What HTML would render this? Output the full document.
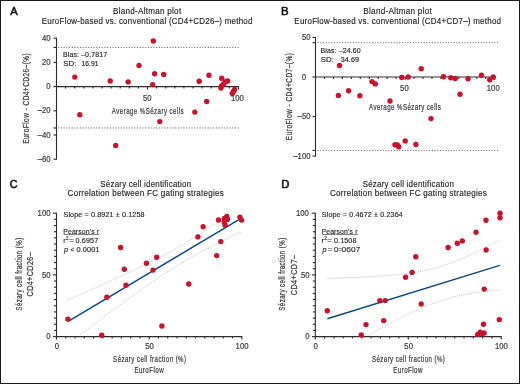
<!DOCTYPE html>
<html><head><meta charset="utf-8">
<style>
html,body{margin:0;padding:0;background:#fff;}
body{width:520px;height:384px;overflow:hidden;}
svg{display:block;font-family:"Liberation Sans",sans-serif;-webkit-font-smoothing:antialiased;will-change:transform;font-kerning:none;font-variant-ligatures:none;}
text{font-kerning:none;font-variant-ligatures:none;}
</style></head>
<body>
<svg width="520" height="384" viewBox="0 0 520 384">
<rect x="0" y="0" width="520" height="384" fill="#fff"/>
<text transform="translate(10.28,15.20) scale(0.9843,1)" font-size="11.337" fill="#111" stroke="#111" stroke-width="0.55">A</text>
<text transform="translate(281.06,14.80) scale(1.0109,1)" font-size="11.337" fill="#111" stroke="#111" stroke-width="0.55">B</text>
<text transform="translate(9.75,187.90) scale(0.9471,1)" font-size="11.337" fill="#111" stroke="#111" stroke-width="0.55">C</text>
<text transform="translate(281.27,187.80) scale(0.9978,1)" font-size="11.337" fill="#111" stroke="#111" stroke-width="0.55">D</text>
<text transform="translate(113.03,13.60) scale(0.9163,1)" font-size="8.866" letter-spacing="0.273" fill="#282828" stroke="#282828" stroke-width="0.16">Bland-Altman plot</text>
<text transform="translate(41.75,23.70) scale(0.8980,1)" font-size="8.866" letter-spacing="0.278" fill="#282828" stroke="#282828" stroke-width="0.16">EuroFlow-based vs. conventional (CD4+CD26–) method</text>
<text transform="translate(363.33,13.60) scale(0.9221,1)" font-size="8.866" letter-spacing="0.271" fill="#282828" stroke="#282828" stroke-width="0.16">Bland-Altman plot</text>
<text transform="translate(294.35,23.70) scale(0.9002,1)" font-size="8.866" letter-spacing="0.278" fill="#282828" stroke="#282828" stroke-width="0.16">EuroFlow-based vs. conventional (CD4+CD7–) method</text>
<text transform="translate(100.34,186.90) scale(0.8897,1)" font-size="8.866" letter-spacing="0.281" fill="#282828" stroke="#282828" stroke-width="0.16">Sézary cell identification</text>
<text transform="translate(67.59,196.30) scale(0.9100,1)" font-size="8.866" letter-spacing="0.275" fill="#282828" stroke="#282828" stroke-width="0.16">Correlation between FC gating strategies</text>
<text transform="translate(362.64,186.90) scale(0.8950,1)" font-size="8.866" letter-spacing="0.279" fill="#282828" stroke="#282828" stroke-width="0.16">Sézary cell identification</text>
<text transform="translate(329.89,196.30) scale(0.9137,1)" font-size="8.866" letter-spacing="0.274" fill="#282828" stroke="#282828" stroke-width="0.16">Correlation between FC gating strategies</text>
<line x1="56.50" y1="37.70" x2="56.50" y2="159.70" stroke="#302c2d" stroke-width="1.12"/>
<line x1="53.50" y1="38.20" x2="56.50" y2="38.20" stroke="#302c2d" stroke-width="1.12"/>
<line x1="53.50" y1="62.40" x2="56.50" y2="62.40" stroke="#302c2d" stroke-width="1.12"/>
<line x1="53.50" y1="86.60" x2="56.50" y2="86.60" stroke="#302c2d" stroke-width="1.12"/>
<line x1="53.50" y1="110.80" x2="56.50" y2="110.80" stroke="#302c2d" stroke-width="1.12"/>
<line x1="53.50" y1="135.00" x2="56.50" y2="135.00" stroke="#302c2d" stroke-width="1.12"/>
<line x1="53.50" y1="159.20" x2="56.50" y2="159.20" stroke="#302c2d" stroke-width="1.12"/>
<line x1="53.50" y1="47.45" x2="56.50" y2="47.45" stroke="#302c2d" stroke-width="1.12"/>
<line x1="53.50" y1="127.95" x2="56.50" y2="127.95" stroke="#302c2d" stroke-width="1.12"/>
<line x1="56.50" y1="86.60" x2="239.00" y2="86.60" stroke="#302c2d" stroke-width="1.12"/>
<line x1="65.60" y1="86.60" x2="65.60" y2="88.60" stroke="#302c2d" stroke-width="1.12"/>
<line x1="74.70" y1="86.60" x2="74.70" y2="88.60" stroke="#302c2d" stroke-width="1.12"/>
<line x1="83.80" y1="86.60" x2="83.80" y2="88.60" stroke="#302c2d" stroke-width="1.12"/>
<line x1="92.90" y1="86.60" x2="92.90" y2="88.60" stroke="#302c2d" stroke-width="1.12"/>
<line x1="102.00" y1="86.60" x2="102.00" y2="88.60" stroke="#302c2d" stroke-width="1.12"/>
<line x1="111.10" y1="86.60" x2="111.10" y2="88.60" stroke="#302c2d" stroke-width="1.12"/>
<line x1="120.20" y1="86.60" x2="120.20" y2="88.60" stroke="#302c2d" stroke-width="1.12"/>
<line x1="129.30" y1="86.60" x2="129.30" y2="88.60" stroke="#302c2d" stroke-width="1.12"/>
<line x1="138.40" y1="86.60" x2="138.40" y2="88.60" stroke="#302c2d" stroke-width="1.12"/>
<line x1="147.50" y1="86.60" x2="147.50" y2="89.60" stroke="#302c2d" stroke-width="1.12"/>
<line x1="156.60" y1="86.60" x2="156.60" y2="88.60" stroke="#302c2d" stroke-width="1.12"/>
<line x1="165.70" y1="86.60" x2="165.70" y2="88.60" stroke="#302c2d" stroke-width="1.12"/>
<line x1="174.80" y1="86.60" x2="174.80" y2="88.60" stroke="#302c2d" stroke-width="1.12"/>
<line x1="183.90" y1="86.60" x2="183.90" y2="88.60" stroke="#302c2d" stroke-width="1.12"/>
<line x1="193.00" y1="86.60" x2="193.00" y2="88.60" stroke="#302c2d" stroke-width="1.12"/>
<line x1="202.10" y1="86.60" x2="202.10" y2="88.60" stroke="#302c2d" stroke-width="1.12"/>
<line x1="211.20" y1="86.60" x2="211.20" y2="88.60" stroke="#302c2d" stroke-width="1.12"/>
<line x1="220.30" y1="86.60" x2="220.30" y2="88.60" stroke="#302c2d" stroke-width="1.12"/>
<line x1="229.40" y1="86.60" x2="229.40" y2="88.60" stroke="#302c2d" stroke-width="1.12"/>
<line x1="238.50" y1="86.60" x2="238.50" y2="89.60" stroke="#302c2d" stroke-width="1.12"/>
<line x1="58.20" y1="47.45" x2="239.20" y2="47.45" stroke="#555" stroke-width="1" stroke-dasharray="1 1.72"/>
<line x1="58.20" y1="127.95" x2="239.20" y2="127.95" stroke="#555" stroke-width="1" stroke-dasharray="1 1.72"/>
<text transform="translate(42.00,40.80) scale(0.9300,1)" font-size="8.312" fill="#3a3a3a" stroke="#3a3a3a" stroke-width="0.20">40</text>
<text transform="translate(42.00,65.00) scale(0.9300,1)" font-size="8.312" fill="#3a3a3a" stroke="#3a3a3a" stroke-width="0.20">20</text>
<text transform="translate(46.30,89.20) scale(0.9300,1)" font-size="8.312" fill="#3a3a3a" stroke="#3a3a3a" stroke-width="0.20">0</text>
<text transform="translate(37.70,113.40) scale(0.9300,1)" font-size="8.312" fill="#3a3a3a" stroke="#3a3a3a" stroke-width="0.20">–20</text>
<text transform="translate(37.70,137.60) scale(0.9300,1)" font-size="8.312" fill="#3a3a3a" stroke="#3a3a3a" stroke-width="0.20">–40</text>
<text transform="translate(37.70,161.80) scale(0.9300,1)" font-size="8.312" fill="#3a3a3a" stroke="#3a3a3a" stroke-width="0.20">–60</text>
<text transform="translate(143.00,101.30) scale(0.9300,1)" font-size="8.312" fill="#3a3a3a" stroke="#3a3a3a" stroke-width="0.20">50</text>
<text transform="translate(230.91,101.30) scale(0.9300,1)" font-size="8.312" fill="#3a3a3a" stroke="#3a3a3a" stroke-width="0.20">100</text>
<text transform="translate(111.84,113.60) scale(0.6468,1)" font-size="9.448" letter-spacing="0.696" fill="#3a3a3a" stroke="#3a3a3a" stroke-width="0.24">Average %Sézary cells</text>
<text transform="translate(28.90,98.40) rotate(-90) translate(-45.44,0.00) scale(0.6920,1)" font-size="9.448" letter-spacing="0.650" fill="#3a3a3a" stroke="#3a3a3a" stroke-width="0.24">EuroFlow - CD4+CD26–(%)</text>
<text transform="translate(62.93,57.00) scale(0.8913,1)" font-size="7.849" letter-spacing="0.135" fill="#282828" stroke="#282828" stroke-width="0.18">Bias: –0.7817</text>
<text transform="translate(63.14,66.00) scale(1.0000,1)" font-size="7.849" letter-spacing="0.120" fill="#282828" stroke="#282828" stroke-width="0.18">SD:</text>
<text transform="translate(81.39,66.00) scale(0.8478,1)" font-size="7.849" letter-spacing="0.142" fill="#282828" stroke="#282828" stroke-width="0.18">16.91</text>
<circle cx="74.80" cy="77.10" r="2.7" fill="#c5142e"/>
<circle cx="79.80" cy="114.80" r="2.7" fill="#c5142e"/>
<circle cx="110.20" cy="81.00" r="2.7" fill="#c5142e"/>
<circle cx="115.70" cy="145.50" r="2.7" fill="#c5142e"/>
<circle cx="128.10" cy="81.90" r="2.7" fill="#c5142e"/>
<circle cx="139.00" cy="65.40" r="2.7" fill="#c5142e"/>
<circle cx="153.30" cy="41.00" r="2.7" fill="#c5142e"/>
<circle cx="154.60" cy="73.70" r="2.7" fill="#c5142e"/>
<circle cx="152.70" cy="84.60" r="2.7" fill="#c5142e"/>
<circle cx="163.70" cy="74.40" r="2.7" fill="#c5142e"/>
<circle cx="159.80" cy="121.60" r="2.7" fill="#c5142e"/>
<circle cx="194.80" cy="112.10" r="2.7" fill="#c5142e"/>
<circle cx="199.20" cy="81.30" r="2.7" fill="#c5142e"/>
<circle cx="206.70" cy="101.50" r="2.7" fill="#c5142e"/>
<circle cx="209.00" cy="75.20" r="2.7" fill="#c5142e"/>
<circle cx="221.70" cy="78.20" r="2.7" fill="#c5142e"/>
<circle cx="227.60" cy="80.90" r="2.7" fill="#c5142e"/>
<circle cx="225.60" cy="81.70" r="2.7" fill="#c5142e"/>
<circle cx="223.70" cy="83.70" r="2.7" fill="#c5142e"/>
<circle cx="221.70" cy="85.60" r="2.7" fill="#c5142e"/>
<circle cx="220.90" cy="88.00" r="2.7" fill="#c5142e"/>
<circle cx="234.60" cy="89.50" r="2.7" fill="#c5142e"/>
<circle cx="233.40" cy="91.50" r="2.7" fill="#c5142e"/>
<circle cx="232.30" cy="93.40" r="2.7" fill="#c5142e"/>
<line x1="315.50" y1="36.95" x2="315.50" y2="156.59" stroke="#302c2d" stroke-width="1.12"/>
<line x1="312.50" y1="37.45" x2="315.50" y2="37.45" stroke="#302c2d" stroke-width="1.12"/>
<line x1="312.50" y1="77.00" x2="315.50" y2="77.00" stroke="#302c2d" stroke-width="1.12"/>
<line x1="312.50" y1="116.55" x2="315.50" y2="116.55" stroke="#302c2d" stroke-width="1.12"/>
<line x1="312.50" y1="156.09" x2="315.50" y2="156.09" stroke="#302c2d" stroke-width="1.12"/>
<line x1="312.50" y1="42.70" x2="315.50" y2="42.70" stroke="#302c2d" stroke-width="1.12"/>
<line x1="312.50" y1="150.40" x2="315.50" y2="150.40" stroke="#302c2d" stroke-width="1.12"/>
<line x1="315.50" y1="77.00" x2="495.20" y2="77.00" stroke="#302c2d" stroke-width="1.12"/>
<line x1="324.46" y1="77.00" x2="324.46" y2="79.00" stroke="#302c2d" stroke-width="1.12"/>
<line x1="333.42" y1="77.00" x2="333.42" y2="79.00" stroke="#302c2d" stroke-width="1.12"/>
<line x1="342.38" y1="77.00" x2="342.38" y2="79.00" stroke="#302c2d" stroke-width="1.12"/>
<line x1="351.34" y1="77.00" x2="351.34" y2="79.00" stroke="#302c2d" stroke-width="1.12"/>
<line x1="360.30" y1="77.00" x2="360.30" y2="79.00" stroke="#302c2d" stroke-width="1.12"/>
<line x1="369.26" y1="77.00" x2="369.26" y2="79.00" stroke="#302c2d" stroke-width="1.12"/>
<line x1="378.22" y1="77.00" x2="378.22" y2="79.00" stroke="#302c2d" stroke-width="1.12"/>
<line x1="387.18" y1="77.00" x2="387.18" y2="79.00" stroke="#302c2d" stroke-width="1.12"/>
<line x1="396.14" y1="77.00" x2="396.14" y2="79.00" stroke="#302c2d" stroke-width="1.12"/>
<line x1="405.10" y1="77.00" x2="405.10" y2="80.00" stroke="#302c2d" stroke-width="1.12"/>
<line x1="414.06" y1="77.00" x2="414.06" y2="79.00" stroke="#302c2d" stroke-width="1.12"/>
<line x1="423.02" y1="77.00" x2="423.02" y2="79.00" stroke="#302c2d" stroke-width="1.12"/>
<line x1="431.98" y1="77.00" x2="431.98" y2="79.00" stroke="#302c2d" stroke-width="1.12"/>
<line x1="440.94" y1="77.00" x2="440.94" y2="79.00" stroke="#302c2d" stroke-width="1.12"/>
<line x1="449.90" y1="77.00" x2="449.90" y2="79.00" stroke="#302c2d" stroke-width="1.12"/>
<line x1="458.86" y1="77.00" x2="458.86" y2="79.00" stroke="#302c2d" stroke-width="1.12"/>
<line x1="467.82" y1="77.00" x2="467.82" y2="79.00" stroke="#302c2d" stroke-width="1.12"/>
<line x1="476.78" y1="77.00" x2="476.78" y2="79.00" stroke="#302c2d" stroke-width="1.12"/>
<line x1="485.74" y1="77.00" x2="485.74" y2="79.00" stroke="#302c2d" stroke-width="1.12"/>
<line x1="494.70" y1="77.00" x2="494.70" y2="80.00" stroke="#302c2d" stroke-width="1.12"/>
<line x1="317.60" y1="42.70" x2="498.60" y2="42.70" stroke="#555" stroke-width="1" stroke-dasharray="1 1.72"/>
<line x1="317.60" y1="150.40" x2="498.60" y2="150.40" stroke="#555" stroke-width="1" stroke-dasharray="1 1.72"/>
<text transform="translate(301.90,40.05) scale(0.9300,1)" font-size="8.312" fill="#3a3a3a" stroke="#3a3a3a" stroke-width="0.20">50</text>
<text transform="translate(297.60,119.14) scale(0.9300,1)" font-size="8.312" fill="#3a3a3a" stroke="#3a3a3a" stroke-width="0.20">–50</text>
<text transform="translate(293.31,158.69) scale(0.9300,1)" font-size="8.312" fill="#3a3a3a" stroke="#3a3a3a" stroke-width="0.20">–100</text>
<text transform="translate(301.65,79.60) scale(0.9300,1)" font-size="8.312" fill="#3a3a3a" stroke="#3a3a3a" stroke-width="0.20">0</text>
<text transform="translate(400.10,91.40) scale(0.9300,1)" font-size="8.312" fill="#3a3a3a" stroke="#3a3a3a" stroke-width="0.20">50</text>
<text transform="translate(486.81,91.40) scale(0.9300,1)" font-size="8.312" fill="#3a3a3a" stroke="#3a3a3a" stroke-width="0.20">100</text>
<text transform="translate(368.94,109.60) scale(0.6489,1)" font-size="9.448" letter-spacing="0.694" fill="#3a3a3a" stroke="#3a3a3a" stroke-width="0.24">Average %Sézary cells</text>
<text transform="translate(291.70,96.45) rotate(-90) translate(-43.74,0.00) scale(0.6982,1)" font-size="9.448" letter-spacing="0.644" fill="#3a3a3a" stroke="#3a3a3a" stroke-width="0.24">EuroFlow - CD4+CD7–(%)</text>
<text transform="translate(320.53,53.00) scale(0.8897,1)" font-size="7.849" letter-spacing="0.135" fill="#282828" stroke="#282828" stroke-width="0.18">Bias: –24.60</text>
<text transform="translate(320.74,61.50) scale(1.0000,1)" font-size="7.849" letter-spacing="0.120" fill="#282828" stroke="#282828" stroke-width="0.18">SD:</text>
<text transform="translate(340.63,61.50) scale(0.9077,1)" font-size="7.849" letter-spacing="0.132" fill="#282828" stroke="#282828" stroke-width="0.18">34.69</text>
<circle cx="339.50" cy="65.50" r="2.7" fill="#c5142e"/>
<circle cx="338.40" cy="95.40" r="2.7" fill="#c5142e"/>
<circle cx="348.60" cy="90.70" r="2.7" fill="#c5142e"/>
<circle cx="359.90" cy="95.80" r="2.7" fill="#c5142e"/>
<circle cx="372.00" cy="81.60" r="2.7" fill="#c5142e"/>
<circle cx="375.30" cy="83.90" r="2.7" fill="#c5142e"/>
<circle cx="390.00" cy="101.00" r="2.7" fill="#c5142e"/>
<circle cx="421.25" cy="68.75" r="2.7" fill="#c5142e"/>
<circle cx="401.75" cy="77.50" r="2.7" fill="#c5142e"/>
<circle cx="408.25" cy="77.00" r="2.7" fill="#c5142e"/>
<circle cx="443.50" cy="76.75" r="2.7" fill="#c5142e"/>
<circle cx="450.75" cy="77.75" r="2.7" fill="#c5142e"/>
<circle cx="455.25" cy="78.50" r="2.7" fill="#c5142e"/>
<circle cx="468.00" cy="78.75" r="2.7" fill="#c5142e"/>
<circle cx="481.50" cy="75.25" r="2.7" fill="#c5142e"/>
<circle cx="489.75" cy="79.75" r="2.7" fill="#c5142e"/>
<circle cx="493.25" cy="77.00" r="2.7" fill="#c5142e"/>
<circle cx="460.00" cy="94.25" r="2.7" fill="#c5142e"/>
<circle cx="431.00" cy="118.60" r="2.7" fill="#c5142e"/>
<circle cx="395.00" cy="144.80" r="2.7" fill="#c5142e"/>
<circle cx="397.40" cy="145.00" r="2.7" fill="#c5142e"/>
<circle cx="398.75" cy="146.80" r="2.7" fill="#c5142e"/>
<circle cx="405.20" cy="140.90" r="2.7" fill="#c5142e"/>
<circle cx="415.90" cy="144.50" r="2.7" fill="#c5142e"/>
<line x1="56.50" y1="212.70" x2="56.50" y2="337.10" stroke="#302c2d" stroke-width="1.12"/>
<line x1="53.00" y1="336.60" x2="56.50" y2="336.60" stroke="#302c2d" stroke-width="1.12"/>
<line x1="54.00" y1="330.43" x2="56.50" y2="330.43" stroke="#302c2d" stroke-width="1.12"/>
<line x1="54.00" y1="324.26" x2="56.50" y2="324.26" stroke="#302c2d" stroke-width="1.12"/>
<line x1="54.00" y1="318.09" x2="56.50" y2="318.09" stroke="#302c2d" stroke-width="1.12"/>
<line x1="54.00" y1="311.92" x2="56.50" y2="311.92" stroke="#302c2d" stroke-width="1.12"/>
<line x1="54.00" y1="305.75" x2="56.50" y2="305.75" stroke="#302c2d" stroke-width="1.12"/>
<line x1="54.00" y1="299.58" x2="56.50" y2="299.58" stroke="#302c2d" stroke-width="1.12"/>
<line x1="54.00" y1="293.41" x2="56.50" y2="293.41" stroke="#302c2d" stroke-width="1.12"/>
<line x1="54.00" y1="287.24" x2="56.50" y2="287.24" stroke="#302c2d" stroke-width="1.12"/>
<line x1="54.00" y1="281.07" x2="56.50" y2="281.07" stroke="#302c2d" stroke-width="1.12"/>
<line x1="53.00" y1="274.90" x2="56.50" y2="274.90" stroke="#302c2d" stroke-width="1.12"/>
<line x1="54.00" y1="268.73" x2="56.50" y2="268.73" stroke="#302c2d" stroke-width="1.12"/>
<line x1="54.00" y1="262.56" x2="56.50" y2="262.56" stroke="#302c2d" stroke-width="1.12"/>
<line x1="54.00" y1="256.39" x2="56.50" y2="256.39" stroke="#302c2d" stroke-width="1.12"/>
<line x1="54.00" y1="250.22" x2="56.50" y2="250.22" stroke="#302c2d" stroke-width="1.12"/>
<line x1="54.00" y1="244.05" x2="56.50" y2="244.05" stroke="#302c2d" stroke-width="1.12"/>
<line x1="54.00" y1="237.88" x2="56.50" y2="237.88" stroke="#302c2d" stroke-width="1.12"/>
<line x1="54.00" y1="231.71" x2="56.50" y2="231.71" stroke="#302c2d" stroke-width="1.12"/>
<line x1="54.00" y1="225.54" x2="56.50" y2="225.54" stroke="#302c2d" stroke-width="1.12"/>
<line x1="54.00" y1="219.37" x2="56.50" y2="219.37" stroke="#302c2d" stroke-width="1.12"/>
<line x1="53.00" y1="213.20" x2="56.50" y2="213.20" stroke="#302c2d" stroke-width="1.12"/>
<line x1="56.00" y1="336.60" x2="242.30" y2="336.60" stroke="#302c2d" stroke-width="1.12"/>
<line x1="56.50" y1="336.60" x2="56.50" y2="339.60" stroke="#302c2d" stroke-width="1.12"/>
<line x1="65.77" y1="336.60" x2="65.77" y2="338.40" stroke="#302c2d" stroke-width="1.12"/>
<line x1="75.03" y1="336.60" x2="75.03" y2="338.40" stroke="#302c2d" stroke-width="1.12"/>
<line x1="84.30" y1="336.60" x2="84.30" y2="338.40" stroke="#302c2d" stroke-width="1.12"/>
<line x1="93.56" y1="336.60" x2="93.56" y2="338.40" stroke="#302c2d" stroke-width="1.12"/>
<line x1="102.83" y1="336.60" x2="102.83" y2="338.40" stroke="#302c2d" stroke-width="1.12"/>
<line x1="112.09" y1="336.60" x2="112.09" y2="338.40" stroke="#302c2d" stroke-width="1.12"/>
<line x1="121.36" y1="336.60" x2="121.36" y2="338.40" stroke="#302c2d" stroke-width="1.12"/>
<line x1="130.62" y1="336.60" x2="130.62" y2="338.40" stroke="#302c2d" stroke-width="1.12"/>
<line x1="139.88" y1="336.60" x2="139.88" y2="338.40" stroke="#302c2d" stroke-width="1.12"/>
<line x1="149.15" y1="336.60" x2="149.15" y2="339.60" stroke="#302c2d" stroke-width="1.12"/>
<line x1="158.42" y1="336.60" x2="158.42" y2="338.40" stroke="#302c2d" stroke-width="1.12"/>
<line x1="167.68" y1="336.60" x2="167.68" y2="338.40" stroke="#302c2d" stroke-width="1.12"/>
<line x1="176.94" y1="336.60" x2="176.94" y2="338.40" stroke="#302c2d" stroke-width="1.12"/>
<line x1="186.21" y1="336.60" x2="186.21" y2="338.40" stroke="#302c2d" stroke-width="1.12"/>
<line x1="195.48" y1="336.60" x2="195.48" y2="338.40" stroke="#302c2d" stroke-width="1.12"/>
<line x1="204.74" y1="336.60" x2="204.74" y2="338.40" stroke="#302c2d" stroke-width="1.12"/>
<line x1="214.01" y1="336.60" x2="214.01" y2="338.40" stroke="#302c2d" stroke-width="1.12"/>
<line x1="223.27" y1="336.60" x2="223.27" y2="338.40" stroke="#302c2d" stroke-width="1.12"/>
<line x1="232.54" y1="336.60" x2="232.54" y2="338.40" stroke="#302c2d" stroke-width="1.12"/>
<line x1="241.80" y1="336.60" x2="241.80" y2="339.60" stroke="#302c2d" stroke-width="1.12"/>
<text transform="translate(37.60,215.80) scale(0.9300,1)" font-size="8.312" fill="#3a3a3a" stroke="#3a3a3a" stroke-width="0.20">100</text>
<text transform="translate(41.90,277.50) scale(0.9300,1)" font-size="8.312" fill="#3a3a3a" stroke="#3a3a3a" stroke-width="0.20">50</text>
<text transform="translate(46.20,339.20) scale(0.9300,1)" font-size="8.312" fill="#3a3a3a" stroke="#3a3a3a" stroke-width="0.20">0</text>
<text transform="translate(54.75,348.80) scale(0.9300,1)" font-size="8.312" fill="#3a3a3a" stroke="#3a3a3a" stroke-width="0.20">0</text>
<text transform="translate(145.25,348.80) scale(0.9300,1)" font-size="8.312" fill="#3a3a3a" stroke="#3a3a3a" stroke-width="0.20">50</text>
<text transform="translate(235.61,348.80) scale(0.9300,1)" font-size="8.312" fill="#3a3a3a" stroke="#3a3a3a" stroke-width="0.20">100</text>
<text transform="translate(113.12,362.00) scale(0.6445,1)" font-size="9.448" letter-spacing="0.698" fill="#3a3a3a" stroke="#3a3a3a" stroke-width="0.24">Sézary cell fraction (%)</text>
<text transform="translate(134.39,373.30) scale(0.6551,1)" font-size="9.448" letter-spacing="0.687" fill="#3a3a3a" stroke="#3a3a3a" stroke-width="0.24">EuroFlow</text>
<text transform="translate(21.80,274.25) rotate(-90) translate(-36.43,0.00) scale(0.6445,1)" font-size="9.448" letter-spacing="0.698" fill="#3a3a3a" stroke="#3a3a3a" stroke-width="0.24">Sézary cell fraction (%)</text>
<text transform="translate(33.40,274.20) rotate(-90) translate(-22.26,0.00) scale(0.7536,1)" font-size="9.448" letter-spacing="0.597" fill="#3a3a3a" stroke="#3a3a3a" stroke-width="0.24">CD4+CD26–</text>
<line x1="315.30" y1="212.70" x2="315.30" y2="337.10" stroke="#302c2d" stroke-width="1.12"/>
<line x1="311.80" y1="336.60" x2="315.30" y2="336.60" stroke="#302c2d" stroke-width="1.12"/>
<line x1="312.80" y1="330.43" x2="315.30" y2="330.43" stroke="#302c2d" stroke-width="1.12"/>
<line x1="312.80" y1="324.26" x2="315.30" y2="324.26" stroke="#302c2d" stroke-width="1.12"/>
<line x1="312.80" y1="318.09" x2="315.30" y2="318.09" stroke="#302c2d" stroke-width="1.12"/>
<line x1="312.80" y1="311.92" x2="315.30" y2="311.92" stroke="#302c2d" stroke-width="1.12"/>
<line x1="312.80" y1="305.75" x2="315.30" y2="305.75" stroke="#302c2d" stroke-width="1.12"/>
<line x1="312.80" y1="299.58" x2="315.30" y2="299.58" stroke="#302c2d" stroke-width="1.12"/>
<line x1="312.80" y1="293.41" x2="315.30" y2="293.41" stroke="#302c2d" stroke-width="1.12"/>
<line x1="312.80" y1="287.24" x2="315.30" y2="287.24" stroke="#302c2d" stroke-width="1.12"/>
<line x1="312.80" y1="281.07" x2="315.30" y2="281.07" stroke="#302c2d" stroke-width="1.12"/>
<line x1="311.80" y1="274.90" x2="315.30" y2="274.90" stroke="#302c2d" stroke-width="1.12"/>
<line x1="312.80" y1="268.73" x2="315.30" y2="268.73" stroke="#302c2d" stroke-width="1.12"/>
<line x1="312.80" y1="262.56" x2="315.30" y2="262.56" stroke="#302c2d" stroke-width="1.12"/>
<line x1="312.80" y1="256.39" x2="315.30" y2="256.39" stroke="#302c2d" stroke-width="1.12"/>
<line x1="312.80" y1="250.22" x2="315.30" y2="250.22" stroke="#302c2d" stroke-width="1.12"/>
<line x1="312.80" y1="244.05" x2="315.30" y2="244.05" stroke="#302c2d" stroke-width="1.12"/>
<line x1="312.80" y1="237.88" x2="315.30" y2="237.88" stroke="#302c2d" stroke-width="1.12"/>
<line x1="312.80" y1="231.71" x2="315.30" y2="231.71" stroke="#302c2d" stroke-width="1.12"/>
<line x1="312.80" y1="225.54" x2="315.30" y2="225.54" stroke="#302c2d" stroke-width="1.12"/>
<line x1="312.80" y1="219.37" x2="315.30" y2="219.37" stroke="#302c2d" stroke-width="1.12"/>
<line x1="311.80" y1="213.20" x2="315.30" y2="213.20" stroke="#302c2d" stroke-width="1.12"/>
<line x1="314.80" y1="336.60" x2="501.70" y2="336.60" stroke="#302c2d" stroke-width="1.12"/>
<line x1="315.30" y1="336.60" x2="315.30" y2="339.60" stroke="#302c2d" stroke-width="1.12"/>
<line x1="324.60" y1="336.60" x2="324.60" y2="338.40" stroke="#302c2d" stroke-width="1.12"/>
<line x1="333.89" y1="336.60" x2="333.89" y2="338.40" stroke="#302c2d" stroke-width="1.12"/>
<line x1="343.19" y1="336.60" x2="343.19" y2="338.40" stroke="#302c2d" stroke-width="1.12"/>
<line x1="352.48" y1="336.60" x2="352.48" y2="338.40" stroke="#302c2d" stroke-width="1.12"/>
<line x1="361.77" y1="336.60" x2="361.77" y2="338.40" stroke="#302c2d" stroke-width="1.12"/>
<line x1="371.07" y1="336.60" x2="371.07" y2="338.40" stroke="#302c2d" stroke-width="1.12"/>
<line x1="380.37" y1="336.60" x2="380.37" y2="338.40" stroke="#302c2d" stroke-width="1.12"/>
<line x1="389.66" y1="336.60" x2="389.66" y2="338.40" stroke="#302c2d" stroke-width="1.12"/>
<line x1="398.95" y1="336.60" x2="398.95" y2="338.40" stroke="#302c2d" stroke-width="1.12"/>
<line x1="408.25" y1="336.60" x2="408.25" y2="339.60" stroke="#302c2d" stroke-width="1.12"/>
<line x1="417.55" y1="336.60" x2="417.55" y2="338.40" stroke="#302c2d" stroke-width="1.12"/>
<line x1="426.84" y1="336.60" x2="426.84" y2="338.40" stroke="#302c2d" stroke-width="1.12"/>
<line x1="436.13" y1="336.60" x2="436.13" y2="338.40" stroke="#302c2d" stroke-width="1.12"/>
<line x1="445.43" y1="336.60" x2="445.43" y2="338.40" stroke="#302c2d" stroke-width="1.12"/>
<line x1="454.73" y1="336.60" x2="454.73" y2="338.40" stroke="#302c2d" stroke-width="1.12"/>
<line x1="464.02" y1="336.60" x2="464.02" y2="338.40" stroke="#302c2d" stroke-width="1.12"/>
<line x1="473.31" y1="336.60" x2="473.31" y2="338.40" stroke="#302c2d" stroke-width="1.12"/>
<line x1="482.61" y1="336.60" x2="482.61" y2="338.40" stroke="#302c2d" stroke-width="1.12"/>
<line x1="491.90" y1="336.60" x2="491.90" y2="338.40" stroke="#302c2d" stroke-width="1.12"/>
<line x1="501.20" y1="336.60" x2="501.20" y2="339.60" stroke="#302c2d" stroke-width="1.12"/>
<text transform="translate(295.90,215.80) scale(0.9300,1)" font-size="8.312" fill="#3a3a3a" stroke="#3a3a3a" stroke-width="0.20">100</text>
<text transform="translate(301.00,277.50) scale(0.9300,1)" font-size="8.312" fill="#3a3a3a" stroke="#3a3a3a" stroke-width="0.20">50</text>
<text transform="translate(305.30,339.20) scale(0.9300,1)" font-size="8.312" fill="#3a3a3a" stroke="#3a3a3a" stroke-width="0.20">0</text>
<text transform="translate(313.55,348.80) scale(0.9300,1)" font-size="8.312" fill="#3a3a3a" stroke="#3a3a3a" stroke-width="0.20">0</text>
<text transform="translate(404.35,348.80) scale(0.9300,1)" font-size="8.312" fill="#3a3a3a" stroke="#3a3a3a" stroke-width="0.20">50</text>
<text transform="translate(495.01,348.80) scale(0.9300,1)" font-size="8.312" fill="#3a3a3a" stroke="#3a3a3a" stroke-width="0.20">100</text>
<text transform="translate(371.97,362.00) scale(0.6445,1)" font-size="9.448" letter-spacing="0.698" fill="#3a3a3a" stroke="#3a3a3a" stroke-width="0.24">Sézary cell fraction (%)</text>
<text transform="translate(393.19,373.30) scale(0.6551,1)" font-size="9.448" letter-spacing="0.687" fill="#3a3a3a" stroke="#3a3a3a" stroke-width="0.24">EuroFlow</text>
<text transform="translate(284.80,274.25) rotate(-90) translate(-36.43,0.00) scale(0.6445,1)" font-size="9.448" letter-spacing="0.698" fill="#3a3a3a" stroke="#3a3a3a" stroke-width="0.24">Sézary cell fraction (%)</text>
<text transform="translate(297.10,274.90) rotate(-90) translate(-20.27,0.00) scale(0.7621,1)" font-size="9.448" letter-spacing="0.590" fill="#3a3a3a" stroke="#3a3a3a" stroke-width="0.24">CD4+CD7–</text>
<text transform="translate(63.47,217.30) scale(0.9892,1)" font-size="7.268" letter-spacing="0.121" fill="#282828" stroke="#282828" stroke-width="0.15">Slope = 0.8921 ± 0.1258</text>
<text transform="translate(63.24,233.60) scale(0.9462,1)" font-size="7.268" letter-spacing="0.127" fill="#282828" stroke="#282828" stroke-width="0.15">Pearson’s r</text>
<line x1="63.80" y1="234.50" x2="99.40" y2="234.50" stroke="#5a5a5a" stroke-width="0.75"/>
<text transform="translate(63.32,243.40) scale(1.0000,1)" font-size="7.268" fill="#282828" stroke="#282828" stroke-width="0.15">r</text>
<text transform="translate(66.03,240.20) scale(1.0000,1)" font-size="4.470" fill="#282828" stroke="#282828" stroke-width="0.15">2</text>
<text transform="translate(69.01,243.40) scale(1.1045,1)" font-size="7.268" fill="#282828" stroke="#282828" stroke-width="0.15">=</text>
<text transform="translate(75.62,243.40) scale(0.9917,1)" font-size="7.268" letter-spacing="0.121" fill="#282828" stroke="#282828" stroke-width="0.15">0.6957</text>
<text transform="translate(64.08,252.00) scale(1.0000,1)" font-size="7.268" font-style="italic" fill="#282828" stroke="#282828" stroke-width="0.15">p</text>
<text transform="translate(70.38,252.00) scale(0.8921,1)" font-size="7.268" letter-spacing="0.135" fill="#282828" stroke="#282828" stroke-width="0.15">&lt;</text>
<text transform="translate(76.41,252.00) scale(1.0097,1)" font-size="7.268" letter-spacing="0.119" fill="#282828" stroke="#282828" stroke-width="0.15">0.0001</text>
<text transform="translate(321.77,217.30) scale(0.9892,1)" font-size="7.268" letter-spacing="0.121" fill="#282828" stroke="#282828" stroke-width="0.15">Slope = 0.4672 ± 0.2364</text>
<text transform="translate(321.54,233.60) scale(0.9462,1)" font-size="7.268" letter-spacing="0.127" fill="#282828" stroke="#282828" stroke-width="0.15">Pearson’s r</text>
<line x1="322.10" y1="234.50" x2="357.70" y2="234.50" stroke="#5a5a5a" stroke-width="0.75"/>
<text transform="translate(321.62,243.40) scale(1.0000,1)" font-size="7.268" fill="#282828" stroke="#282828" stroke-width="0.15">r</text>
<text transform="translate(324.33,240.20) scale(1.0000,1)" font-size="4.470" fill="#282828" stroke="#282828" stroke-width="0.15">2</text>
<text transform="translate(327.31,243.40) scale(1.1045,1)" font-size="7.268" fill="#282828" stroke="#282828" stroke-width="0.15">=</text>
<text transform="translate(333.92,243.40) scale(0.9894,1)" font-size="7.268" letter-spacing="0.121" fill="#282828" stroke="#282828" stroke-width="0.15">0.1508</text>
<text transform="translate(322.38,252.00) scale(1.0000,1)" font-size="7.268" font-style="italic" fill="#282828" stroke="#282828" stroke-width="0.15">p</text>
<text transform="translate(328.05,252.00) scale(0.9913,1)" font-size="7.268" letter-spacing="0.121" fill="#282828" stroke="#282828" stroke-width="0.15">=</text>
<text transform="translate(334.11,252.00) scale(1.0075,1)" font-size="7.268" letter-spacing="0.119" fill="#282828" stroke="#282828" stroke-width="0.15">0</text>
<text transform="translate(337.99,252.00) scale(0.8780,1)" font-size="7.268" letter-spacing="0.137" fill="#282828" stroke="#282828" stroke-width="0.15">=</text>
<text transform="translate(341.47,252.00) scale(1.1496,1)" font-size="7.268" letter-spacing="0.104" fill="#282828" stroke="#282828" stroke-width="0.15">0607</text>
<path d="M67.00,300.19 L69.18,299.24 L71.36,298.29 L73.55,297.33 L75.73,296.38 L77.91,295.42 L80.09,294.47 L82.28,293.51 L84.46,292.55 L86.64,291.59 L88.83,290.63 L91.01,289.66 L93.19,288.70 L95.37,287.73 L97.56,286.76 L99.74,285.79 L101.92,284.81 L104.10,283.84 L106.28,282.86 L108.47,281.88 L110.65,280.89 L112.83,279.90 L115.02,278.91 L117.20,277.92 L119.38,276.92 L121.56,275.92 L123.74,274.92 L125.93,273.91 L128.11,272.89 L130.29,271.87 L132.47,270.85 L134.66,269.82 L136.84,268.78 L139.02,267.74 L141.20,266.69 L143.39,265.63 L145.57,264.57 L147.75,263.49 L149.94,262.41 L152.12,261.32 L154.30,260.22 L156.48,259.11 L158.66,257.99 L160.85,256.85 L163.03,255.70 L165.21,254.54 L167.39,253.37 L169.58,252.18 L171.76,250.98 L173.94,249.77 L176.12,248.53 L178.31,247.28 L180.49,246.02 L182.67,244.74 L184.85,243.44 L187.04,242.13 L189.22,240.80 L191.40,239.45 L193.58,238.09 L195.77,236.71 L197.95,235.31 L200.13,233.91 L202.31,232.48 L204.50,231.05 L206.68,229.60 L208.86,228.14 L211.05,226.66 L213.23,225.18 L215.41,223.68 L217.59,222.17 L219.78,220.66 L221.96,219.14 L224.14,217.60 L226.32,216.06 L228.50,214.51" fill="none" stroke="#b4b4b4" stroke-width="0.9" stroke-dasharray="0.9 1.1"/>
<path d="M80.09,334.68 L82.28,333.04 L84.46,331.40 L86.64,329.76 L88.83,328.13 L91.01,326.49 L93.19,324.86 L95.37,323.23 L97.56,321.60 L99.74,319.97 L101.92,318.35 L104.10,316.72 L106.28,315.10 L108.47,313.49 L110.65,311.87 L112.83,310.26 L115.02,308.65 L117.20,307.05 L119.38,305.45 L121.56,303.85 L123.74,302.26 L125.93,300.67 L128.11,299.08 L130.29,297.50 L132.47,295.93 L134.66,294.36 L136.84,292.80 L139.02,291.24 L141.20,289.69 L143.39,288.15 L145.57,286.62 L147.75,285.09 L149.94,283.57 L152.12,282.06 L154.30,280.57 L156.48,279.08 L158.66,277.60 L160.85,276.14 L163.03,274.69 L165.21,273.25 L167.39,271.82 L169.58,270.41 L171.76,269.01 L173.94,267.63 L176.12,266.26 L178.31,264.91 L180.49,263.58 L182.67,262.26 L184.85,260.96 L187.04,259.68 L189.22,258.41 L191.40,257.16 L193.58,255.92 L195.77,254.70 L197.95,253.49 L200.13,252.30 L202.31,251.13 L204.50,249.96 L206.68,248.82 L208.86,247.68 L211.05,246.55 L213.23,245.44 L215.41,244.34 L217.59,243.24 L219.78,242.16 L221.96,241.08 L224.14,240.02 L226.32,238.96 L228.50,237.91 L230.69,236.86 L232.87,235.83 L235.05,234.80 L237.23,233.77 L239.42,232.75 L241.60,231.73" fill="none" stroke="#b4b4b4" stroke-width="0.9" stroke-dasharray="0.9 1.1"/>
<line x1="68.20" y1="321.27" x2="238.90" y2="219.63" stroke="#0a4a85" stroke-width="1.5"/>
<path d="M326.50,278.41 L328.67,278.36 L330.84,278.30 L333.01,278.25 L335.19,278.19 L337.36,278.12 L339.53,278.06 L341.70,277.99 L343.87,277.92 L346.04,277.85 L348.21,277.77 L350.38,277.69 L352.56,277.61 L354.73,277.52 L356.90,277.43 L359.07,277.34 L361.24,277.24 L363.41,277.13 L365.58,277.02 L367.75,276.91 L369.93,276.79 L372.10,276.66 L374.27,276.53 L376.44,276.39 L378.61,276.25 L380.78,276.10 L382.95,275.93 L385.12,275.77 L387.30,275.59 L389.47,275.40 L391.64,275.20 L393.81,274.99 L395.98,274.78 L398.15,274.54 L400.32,274.30 L402.49,274.04 L404.66,273.77 L406.84,273.48 L409.01,273.18 L411.18,272.86 L413.35,272.52 L415.52,272.17 L417.69,271.79 L419.86,271.39 L422.03,270.98 L424.21,270.53 L426.38,270.07 L428.55,269.58 L430.72,269.07 L432.89,268.53 L435.06,267.96 L437.23,267.37 L439.40,266.74 L441.58,266.10 L443.75,265.42 L445.92,264.72 L448.09,263.98 L450.26,263.22 L452.43,262.44 L454.60,261.63 L456.77,260.79 L458.95,259.92 L461.12,259.03 L463.29,258.12 L465.46,257.19 L467.63,256.23 L469.80,255.25 L471.97,254.26 L474.14,253.24 L476.32,252.21 L478.49,251.15 L480.66,250.09 L482.83,249.00 L485.00,247.91 L487.17,246.80 L489.34,245.67 L491.51,244.54 L493.69,243.39 L495.86,242.23 L498.03,241.07 L500.20,239.89" fill="none" stroke="#b4b4b4" stroke-width="0.9" stroke-dasharray="0.9 1.1"/>
<path d="M367.90,335.61 L370.07,334.37 L372.25,333.14 L374.43,331.91 L376.61,330.69 L378.79,329.48 L380.97,328.27 L383.15,327.07 L385.33,325.88 L387.50,324.70 L389.68,323.53 L391.86,322.37 L394.04,321.21 L396.22,320.07 L398.40,318.95 L400.58,317.83 L402.76,316.73 L404.94,315.65 L407.11,314.57 L409.29,313.52 L411.47,312.48 L413.65,311.46 L415.83,310.46 L418.01,309.48 L420.19,308.52 L422.37,307.58 L424.54,306.67 L426.72,305.78 L428.90,304.91 L431.08,304.07 L433.26,303.26 L435.44,302.47 L437.62,301.71 L439.80,300.98 L441.97,300.27 L444.15,299.59 L446.33,298.94 L448.51,298.32 L450.69,297.73 L452.87,297.16 L455.05,296.62 L457.23,296.11 L459.40,295.62 L461.58,295.16 L463.76,294.72 L465.94,294.30 L468.12,293.90 L470.30,293.53 L472.48,293.17 L474.66,292.83 L476.83,292.51 L479.01,292.21 L481.19,291.93 L483.37,291.65 L485.55,291.40 L487.73,291.15 L489.91,290.92 L492.09,290.71 L494.26,290.50 L496.44,290.30 L498.62,290.12 L500.80,289.94" fill="none" stroke="#b4b4b4" stroke-width="0.9" stroke-dasharray="0.9 1.1"/>
<line x1="327.30" y1="318.80" x2="499.80" y2="265.35" stroke="#0a4a85" stroke-width="1.5"/>
<circle cx="67.90" cy="319.10" r="2.7" fill="#c5142e"/>
<circle cx="101.70" cy="335.20" r="2.7" fill="#c5142e"/>
<circle cx="106.90" cy="297.30" r="2.7" fill="#c5142e"/>
<circle cx="120.60" cy="247.50" r="2.7" fill="#c5142e"/>
<circle cx="124.30" cy="269.30" r="2.7" fill="#c5142e"/>
<circle cx="126.00" cy="285.30" r="2.7" fill="#c5142e"/>
<circle cx="146.40" cy="263.20" r="2.7" fill="#c5142e"/>
<circle cx="153.00" cy="270.10" r="2.7" fill="#c5142e"/>
<circle cx="156.70" cy="257.20" r="2.7" fill="#c5142e"/>
<circle cx="161.90" cy="326.00" r="2.7" fill="#c5142e"/>
<circle cx="188.75" cy="284.00" r="2.7" fill="#c5142e"/>
<circle cx="197.90" cy="236.90" r="2.7" fill="#c5142e"/>
<circle cx="203.10" cy="226.80" r="2.7" fill="#c5142e"/>
<circle cx="218.50" cy="220.00" r="2.7" fill="#c5142e"/>
<circle cx="224.40" cy="218.40" r="2.7" fill="#c5142e"/>
<circle cx="226.80" cy="216.40" r="2.7" fill="#c5142e"/>
<circle cx="227.50" cy="219.40" r="2.7" fill="#c5142e"/>
<circle cx="224.10" cy="222.10" r="2.7" fill="#c5142e"/>
<circle cx="225.10" cy="225.20" r="2.7" fill="#c5142e"/>
<circle cx="220.80" cy="241.60" r="2.7" fill="#c5142e"/>
<circle cx="216.70" cy="255.60" r="2.7" fill="#c5142e"/>
<circle cx="239.90" cy="217.10" r="2.7" fill="#c5142e"/>
<circle cx="241.60" cy="220.10" r="2.7" fill="#c5142e"/>
<circle cx="327.30" cy="310.80" r="2.7" fill="#c5142e"/>
<circle cx="361.25" cy="335.00" r="2.7" fill="#c5142e"/>
<circle cx="366.00" cy="324.60" r="2.7" fill="#c5142e"/>
<circle cx="379.80" cy="300.60" r="2.7" fill="#c5142e"/>
<circle cx="385.20" cy="300.60" r="2.7" fill="#c5142e"/>
<circle cx="383.75" cy="320.60" r="2.7" fill="#c5142e"/>
<circle cx="405.60" cy="277.30" r="2.7" fill="#c5142e"/>
<circle cx="412.10" cy="272.40" r="2.7" fill="#c5142e"/>
<circle cx="415.80" cy="256.70" r="2.7" fill="#c5142e"/>
<circle cx="421.20" cy="304.00" r="2.7" fill="#c5142e"/>
<circle cx="448.10" cy="247.50" r="2.7" fill="#c5142e"/>
<circle cx="457.30" cy="243.30" r="2.7" fill="#c5142e"/>
<circle cx="462.30" cy="240.90" r="2.7" fill="#c5142e"/>
<circle cx="476.00" cy="232.30" r="2.7" fill="#c5142e"/>
<circle cx="486.00" cy="220.20" r="2.7" fill="#c5142e"/>
<circle cx="500.00" cy="213.30" r="2.7" fill="#c5142e"/>
<circle cx="500.00" cy="217.80" r="2.7" fill="#c5142e"/>
<circle cx="486.10" cy="250.00" r="2.7" fill="#c5142e"/>
<circle cx="484.20" cy="289.10" r="2.7" fill="#c5142e"/>
<circle cx="499.30" cy="319.60" r="2.7" fill="#c5142e"/>
<circle cx="483.50" cy="324.30" r="2.7" fill="#c5142e"/>
<circle cx="477.70" cy="334.40" r="2.7" fill="#c5142e"/>
<circle cx="480.20" cy="332.30" r="2.7" fill="#c5142e"/>
<circle cx="484.10" cy="333.00" r="2.7" fill="#c5142e"/>
<circle cx="482.00" cy="333.60" r="2.7" fill="#c5142e"/>
<rect x="0.5" y="0.5" width="519" height="383" fill="none" stroke="#1a1a1a" stroke-width="1"/>
</svg>
</body></html>
